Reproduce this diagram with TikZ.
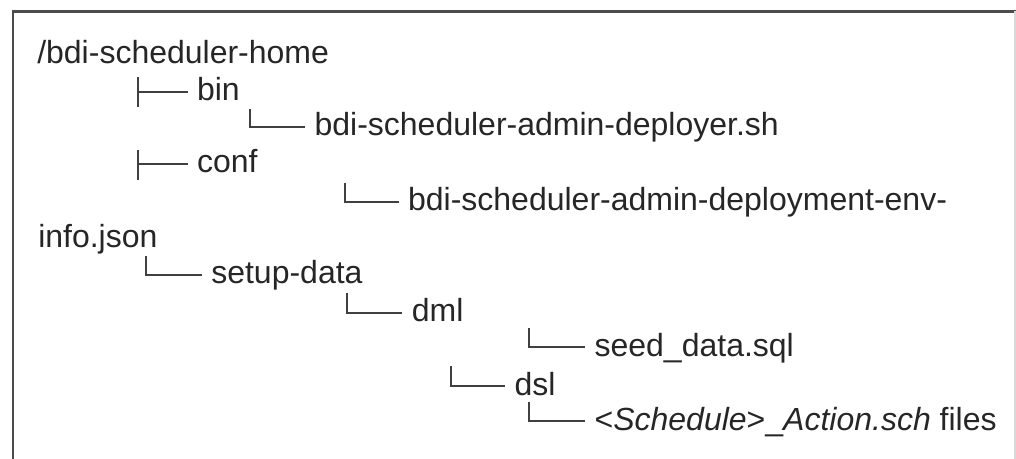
\documentclass[tikz,border=0pt]{standalone}
\usepackage{fontspec}
\setmainfont{Liberation Sans}
\begin{document}
\begin{tikzpicture}[x=0.75pt, y=-0.75pt,
    entry/.style={anchor=base west, inner xsep=7pt, inner ysep=0pt,
      text height=13pt, text depth=0pt, text=black!85,
      font=\fontsize{24}{28}\selectfont},
    branch/.style={draw=black!75, line width=1.5pt}]
  \useasboundingbox (0,0) rectangle (1016,459);

  % ramme
  \draw[black!70, line width=1.8pt] (13,459) -- (13,11.5) -- (1016,11.5);
  \draw[black!15, line width=1.5pt] (1014.5,11.5) -- (1014.5,459);

  % mapper og filer
  \node[entry, inner xsep=0pt] (home) at (37,64) {/bdi-scheduler-home};
  \node[entry] (bin) at (187.5,100.5) {bin};
  \node[entry] (deployer) at (305,136) {bdi-scheduler-admin-deployer.sh};
  \node[entry] (conf) at (187.5,172.3) {conf};
  \node[entry] (deployment) at (398.5,210.5) {bdi-scheduler-admin-deployment-env-};
  \node[entry, inner xsep=0pt] (info) at (38,247.5) {info.json};
  \node[entry] (setup) at (201.7,283.3) {setup-data};
  \node[entry] (dml) at (402.3,321.7) {dml};
  \node[entry] (seed) at (585,356) {seed\_data.sql};
  \node[entry] (dsl) at (505,395) {dsl};
  \node[entry] (action) at (585,430) {<\textit{Schedule}>\_\textit{Action.sch} files};

  % greiner
  \coordinate (binTop) at (137.7,77);
  \coordinate (binBot) at (137.7,107);
  \coordinate (confTop) at (137.7,150);
  \coordinate (confBot) at (137.7,180.5);
  \coordinate (deployerTop) at (250,109);
  \coordinate (deploymentTop) at (345,183);
  \coordinate (setupTop) at (145.5,256);
  \coordinate (dmlTop) at (346.5,292.7);
  \coordinate (seedTop) at (529.3,328.3);
  \coordinate (dslTop) at (450.5,366);
  \coordinate (actionTop) at (529.3,401.7);

  \draw[branch] (binTop) -- (binBot);
  \draw[branch] (binTop |- bin.west) -- (bin.west);
  \draw[branch] (confTop) -- (confBot);
  \draw[branch] (confTop |- conf.west) -- (conf.west);
  \draw[branch] (deployerTop) |- (deployer.west);
  \draw[branch] (deploymentTop) |- (deployment.west);
  \draw[branch] (setupTop) |- (setup.west);
  \draw[branch] (dmlTop) |- (dml.west);
  \draw[branch] (seedTop) |- (seed.west);
  \draw[branch] (dslTop) |- (dsl.west);
  \draw[branch] (actionTop) |- (action.west);
\end{tikzpicture}
\end{document}
